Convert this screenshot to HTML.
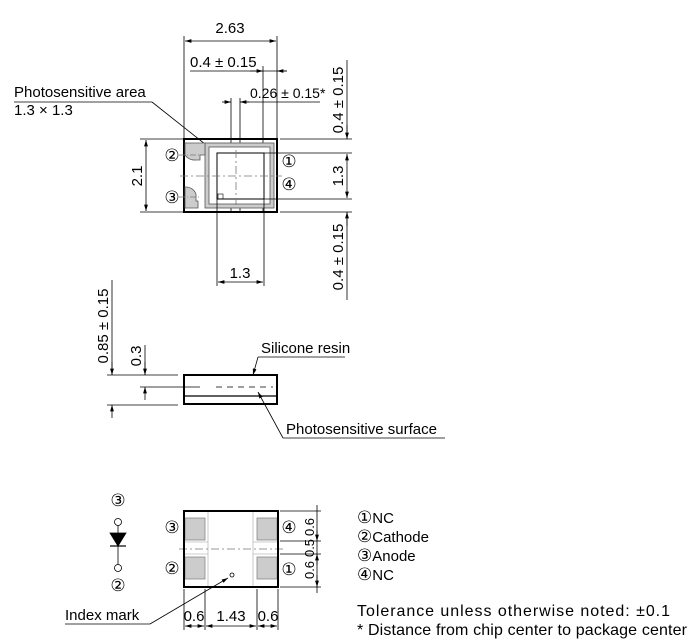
<!DOCTYPE html>
<html><head><meta charset="utf-8"><style>
html,body{margin:0;padding:0;background:#fff}
svg{display:block}
text{font-family:"Liberation Sans","DejaVu Sans",sans-serif;fill:#000}
.c{font-family:"DejaVu Sans",sans-serif;font-size:17px}
</style></head><body>
<svg width="700" height="644" viewBox="0 0 700 644" xmlns="http://www.w3.org/2000/svg">
<defs>
<marker id="a" viewBox="0 0 10 6" refX="10" refY="3" markerWidth="8" markerHeight="5" orient="auto-start-reverse"><path d="M0,0L10,3L0,6z" fill="#000"/></marker>
</defs>
<g stroke="#000" stroke-width="0.8" fill="none">
<line x1="184" y1="36" x2="184" y2="139"/>
<line x1="277" y1="36" x2="277" y2="139"/>
<line x1="185" y1="41" x2="276" y2="41" marker-start="url(#a)" marker-end="url(#a)"/>
<line x1="263" y1="66" x2="263" y2="212"/>
<line x1="190" y1="71" x2="263" y2="71"/>
<line x1="263" y1="71" x2="287" y2="71"/>
<line x1="250" y1="71" x2="263" y2="71" marker-end="url(#a)"/>
<line x1="287" y1="71" x2="277" y2="71" marker-end="url(#a)"/>
<line x1="231" y1="98" x2="231" y2="212"/>
<line x1="240" y1="98" x2="240" y2="212"/>
<line x1="222" y1="102" x2="231" y2="102" marker-end="url(#a)"/>
<line x1="249" y1="102" x2="240" y2="102" marker-end="url(#a)"/>
<line x1="240" y1="102" x2="320" y2="102"/>
<line x1="14" y1="102" x2="152" y2="102"/>
<line x1="152" y1="102" x2="215" y2="152"/>
<rect x="184" y="139" width="93" height="73" stroke-width="2"/>
<rect x="205" y="143" width="69" height="65" fill="#ccc" stroke="#555"/>
<rect x="209" y="147" width="61" height="57" fill="#fff" stroke="#555"/>
<path d="M185,143 h20 v12 h-5 v5 h-4 a12,12 0 0 1 -11,-5 z" fill="#ccc" stroke="#555"/>
<path d="M185,208 h13 v-7 h-2 v-7 a11,11 0 0 0 -11,-7 z" fill="#ccc" stroke="#555"/>
<rect x="217" y="153" width="47" height="46" stroke-width="1"/>
<rect x="218" y="194" width="5" height="5" stroke-width="0.6"/>
<line x1="179" y1="155" x2="203" y2="155" stroke-dasharray="6,2,1,2" stroke="#777"/>
<line x1="179" y1="197" x2="200" y2="197" stroke-dasharray="6,2,1,2" stroke="#777"/>
<line x1="180" y1="176" x2="282" y2="176" stroke-dasharray="8,3,2,3" stroke="#777"/>
<line x1="236" y1="150" x2="236" y2="205" stroke-dasharray="8,3,2,3" stroke="#777"/>
<line x1="217" y1="199" x2="217" y2="286"/>
<line x1="264" y1="199" x2="264" y2="286"/>
<line x1="218" y1="282" x2="263" y2="282" marker-start="url(#a)" marker-end="url(#a)"/>
<line x1="140" y1="139" x2="184" y2="139"/>
<line x1="140" y1="212" x2="184" y2="212"/>
<line x1="146" y1="140" x2="146" y2="211" marker-start="url(#a)" marker-end="url(#a)"/>
<line x1="280" y1="139" x2="352" y2="139"/>
<line x1="264" y1="153" x2="352" y2="153"/>
<line x1="264" y1="199" x2="352" y2="199"/>
<line x1="280" y1="212" x2="352" y2="212"/>
<line x1="347" y1="60" x2="347" y2="139" />
<line x1="347" y1="125" x2="347" y2="139" marker-end="url(#a)"/>
<line x1="347" y1="154" x2="347" y2="198" marker-start="url(#a)" marker-end="url(#a)"/>
<line x1="347" y1="212" x2="347" y2="300"/>
<line x1="347" y1="226" x2="347" y2="212" marker-end="url(#a)"/>
<rect x="184" y="375" width="93" height="29" stroke-width="2"/>
<line x1="184" y1="396" x2="277" y2="396" stroke-width="1.2"/>
<line x1="216" y1="387" x2="273" y2="387" stroke-dasharray="6,5"/>
<line x1="140" y1="387" x2="200" y2="387"/>
<line x1="107" y1="375" x2="178" y2="375"/>
<line x1="107" y1="405" x2="178" y2="405"/>
<line x1="112" y1="280" x2="112" y2="375"/>
<line x1="112" y1="362" x2="112" y2="375" marker-end="url(#a)"/>
<line x1="112" y1="418" x2="112" y2="405" marker-end="url(#a)"/>
<line x1="145" y1="345" x2="145" y2="375"/>
<line x1="145" y1="362" x2="145" y2="375" marker-end="url(#a)"/>
<line x1="145" y1="400" x2="145" y2="387" marker-end="url(#a)"/>
<line x1="258" y1="357" x2="345" y2="357"/>
<line x1="258" y1="357" x2="253" y2="375" marker-end="url(#a)"/>
<line x1="283" y1="438" x2="445" y2="438"/>
<line x1="283" y1="438" x2="258" y2="392"  marker-end="url(#a)"/>
<line x1="208" y1="511" x2="208" y2="587" stroke="#bbb"/>
<line x1="253" y1="511" x2="253" y2="587" stroke="#bbb"/>
<line x1="184" y1="542" x2="208" y2="542" stroke="#bbb"/>
<line x1="184" y1="554" x2="208" y2="554" stroke="#bbb"/>
<line x1="253" y1="542" x2="278" y2="542" stroke="#bbb"/>
<line x1="253" y1="554" x2="278" y2="554" stroke="#bbb"/>
<rect x="185" y="518" width="20" height="22" fill="#ccc" stroke="#888"/>
<rect x="185" y="557" width="20" height="22" fill="#ccc" stroke="#888"/>
<rect x="257" y="518" width="20" height="22" fill="#ccc" stroke="#888"/>
<rect x="257" y="557" width="20" height="22" fill="#ccc" stroke="#888"/>
<line x1="179" y1="549" x2="283" y2="549" stroke-dasharray="8,3,2,3" stroke="#777"/>
<rect x="184" y="511" width="94" height="76" stroke-width="2"/>
<circle cx="232" cy="575" r="2"/>
<line x1="65" y1="624" x2="150" y2="624"/>
<line x1="150" y1="624" x2="228" y2="578" marker-end="url(#a)"/>
<line x1="280" y1="511" x2="321" y2="511"/>
<line x1="280" y1="541" x2="321" y2="541"/>
<line x1="280" y1="554" x2="321" y2="554"/>
<line x1="280" y1="587" x2="321" y2="587"/>
<line x1="317" y1="505" x2="317" y2="593"/>
<line x1="317" y1="530" x2="317" y2="541" marker-end="url(#a)"/>
<line x1="317" y1="565" x2="317" y2="554" marker-end="url(#a)"/>
<line x1="317" y1="575" x2="317" y2="587" marker-end="url(#a)"/>
<line x1="184" y1="589" x2="184" y2="630"/>
<line x1="205" y1="589" x2="205" y2="630"/>
<line x1="257" y1="589" x2="257" y2="630"/>
<line x1="278" y1="589" x2="278" y2="630"/>
<line x1="185" y1="626" x2="204" y2="626" marker-start="url(#a)" marker-end="url(#a)"/>
<line x1="206" y1="626" x2="256" y2="626" marker-start="url(#a)" marker-end="url(#a)"/>
<line x1="258" y1="626" x2="277" y2="626" marker-start="url(#a)" marker-end="url(#a)"/>
<circle cx="118" cy="522" r="3.5"/>
<line x1="118" y1="525.5" x2="118" y2="564.5"/>
<circle cx="118" cy="568" r="3.5"/>
<path d="M110,533 L126,533 L118,546 z" fill="#000"/>
<line x1="110" y1="546" x2="126" y2="546" stroke-width="1.2"/>
</g>
<g font-size="15">
<text x="230" y="33" text-anchor="middle">2.63</text>
<text x="190" y="67">0.4 ± 0.15</text>
<text x="250" y="98" font-size="14">0.26 ± 0.15*</text>
<text x="14" y="97">Photosensitive area</text>
<text x="14" y="115">1.3 × 1.3</text>
<text x="240" y="278" text-anchor="middle">1.3</text>
<text transform="translate(142,176) rotate(-90)" text-anchor="middle">2.1</text>
<text transform="translate(343,100) rotate(-90)" text-anchor="middle">0.4 ± 0.15</text>
<text transform="translate(343,176) rotate(-90)" text-anchor="middle">1.3</text>
<text transform="translate(343,257) rotate(-90)" text-anchor="middle">0.4 ± 0.15</text>
<text transform="translate(108,326) rotate(-90)" text-anchor="middle">0.85 ± 0.15</text>
<text transform="translate(141,356) rotate(-90)" text-anchor="middle">0.3</text>
<text x="261" y="353">Silicone resin</text>
<text x="286" y="434">Photosensitive surface</text>
<text x="65" y="620">Index mark</text>
<text x="194" y="621" text-anchor="middle">0.6</text>
<text x="231" y="621" text-anchor="middle">1.43</text>
<text x="268" y="621" text-anchor="middle">0.6</text>
<text transform="translate(314,527) rotate(-90)" text-anchor="middle" font-size="13">0.6</text>
<text transform="translate(314,548) rotate(-90)" text-anchor="middle" font-size="13">0.5</text>
<text transform="translate(314,570) rotate(-90)" text-anchor="middle" font-size="13">0.6</text>
<text x="357" y="523"><tspan class="c">①</tspan>NC</text>
<text x="357" y="542"><tspan class="c">②</tspan>Cathode</text>
<text x="357" y="561"><tspan class="c">③</tspan>Anode</text>
<text x="357" y="580"><tspan class="c">④</tspan>NC</text>
<text x="357" y="616" font-size="16" textLength="313" lengthAdjust="spacing">Tolerance unless otherwise noted: ±0.1</text>
<text x="357" y="635" font-size="16" textLength="330" lengthAdjust="spacing">* Distance from chip center to package center</text>
</g>
<g class="c" text-anchor="middle">
<text x="172" y="161">②</text>
<text x="172" y="203">③</text>
<text x="289" y="167">①</text>
<text x="289" y="190">④</text>
<text x="172" y="533">③</text>
<text x="172" y="574">②</text>
<text x="289" y="533">④</text>
<text x="289" y="575">①</text>
<text x="118" y="506">③</text>
<text x="118" y="591">②</text>
</g>
</svg>
</body></html>
